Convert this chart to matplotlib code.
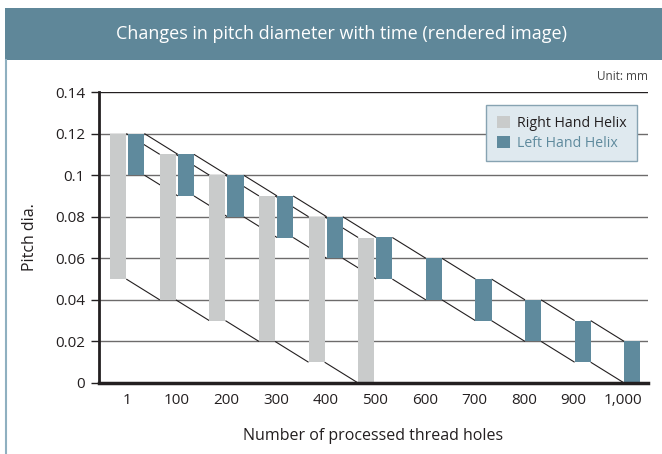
import matplotlib
matplotlib.use("Agg")
import matplotlib.pyplot as plt
from matplotlib.patches import Rectangle, Patch
from matplotlib.lines import Line2D
import numpy as np

plt.rcParams['font.family'] = ['Open Sans', 'DejaVu Sans']

categories = ["1", "100", "200", "300", "400", "500", "600", "700", "800", "900", "1,000"]
right_top = [0.12, 0.11, 0.10, 0.09, 0.08, 0.07]
right_bottom = [0.05, 0.04, 0.03, 0.02, 0.01, 0.00]
left_top = [0.12, 0.11, 0.10, 0.09, 0.08, 0.07, 0.06, 0.05, 0.04, 0.03, 0.02]
left_bottom = [0.10, 0.09, 0.08, 0.07, 0.06, 0.05, 0.04, 0.03, 0.02, 0.01, 0.00]
yticks = [0, 0.02, 0.04, 0.06, 0.08, 0.1, 0.12, 0.14]
ytick_labels = ["0", "0.02", "0.04", "0.06", "0.08", "0.1", "0.12", "0.14"]

GRAY = "#c9cbcb"
BLUE = "#5f8a9d"
BAND = "#5f8799"

W, H = 662, 454
fig = plt.figure(figsize=(W / 100, H / 100), dpi=100)
fig.patch.set_facecolor("white")

# header band
fig.patches.append(Rectangle((5 / W, 1 - 60 / H), 1 - 5 / W, 52 / H,
                             transform=fig.transFigure, facecolor=BAND,
                             edgecolor="none", zorder=0))
fig.lines.append(Line2D([6 / W, 6 / W], [0, 1 - 60 / H], transform=fig.transFigure,
                        color="#8fb0c0", lw=1.5))
fig.text(0.516, 1 - 34 / H, "Changes in pitch diameter with time (rendered image)",
         color="white", fontsize=13, ha="center", va="center")
fig.text(648 / W, 1 - 77 / H, "Unit: mm", color="#444444", fontsize=8.5,
         ha="right", va="center")

ax = fig.add_axes([99 / W, 1 - 383 / H, 549 / W, 291 / H])
x = np.arange(len(categories))
bw = 0.325
gap = 0.02

def draw_ribbon(xs_left, xs_right, tops, bottoms, color):
    for i in range(len(tops)):
        ax.bar(xs_left[i], tops[i] - bottoms[i], bottom=bottoms[i], width=bw,
               align="edge", color=color, zorder=3, linewidth=0)
    for i in range(len(tops) - 1):
        for vals in (tops, bottoms):
            ax.plot([xs_right[i], xs_left[i + 1]], [vals[i], vals[i + 1]],
                    color="#231f20", lw=0.8, zorder=2, solid_capstyle="butt")

nr = len(right_top)
g_left = x[:nr] - gap - bw
g_right = x[:nr] - gap
draw_ribbon(g_left, g_right, right_top, right_bottom, GRAY)
b_left = x + gap
b_right = x + gap + bw
draw_ribbon(b_left, b_right, left_top, left_bottom, BLUE)

for yv in yticks[1:]:
    ax.axhline(yv, color="#231f20" if yv == 0.14 else "#6d6b6b", lw=1.0, zorder=1)

ax.set_xlim(-0.57, 10.5)
ax.set_ylim(0, 0.14)
ax.set_yticks(yticks)
ax.set_yticklabels(ytick_labels)
ax.set_xticks(x)
ax.set_xticklabels(categories)
ax.tick_params(axis="x", length=0, pad=7, labelsize=11, colors="#231f20")
ax.tick_params(axis="y", length=6, width=1, direction="out", pad=4, labelsize=11,
               colors="#231f20")
for s in ("top", "right"):
    ax.spines[s].set_visible(False)
ax.spines["left"].set_linewidth(2)
ax.spines["left"].set_color("#231f20")
ax.spines["bottom"].set_linewidth(2.5)
ax.spines["bottom"].set_color("#231f20")
ax.spines["bottom"].set_zorder(5)

ax.set_xlabel("Number of processed thread holes", fontsize=11.5, color="#231f20")
ax.xaxis.set_label_coords(0.5, -(436 - 383) / 291)
ax.xaxis.label.set_va("center")
ax.set_ylabel("Pitch dia.", fontsize=11.5, color="#231f20")
ax.yaxis.set_label_coords(-(99 - 30) / 549, 0.5)
ax.yaxis.label.set_va("center")

handles = [Patch(facecolor=GRAY, edgecolor="none", label="Right Hand Helix"),
           Patch(facecolor=BLUE, edgecolor="none", label="Left Hand Helix")]
leg = ax.legend(handles=handles, loc="upper right",
                bbox_to_anchor=((637 - 99) / 549, (383 - 105) / 291),
                fancybox=False, framealpha=1, facecolor="#dfe9ef",
                edgecolor="#87a3b2", fontsize=10.2, handlelength=0.9,
                handleheight=0.9, handletextpad=0.5, borderpad=0.75,
                labelspacing=0.35, borderaxespad=0)
leg.get_frame().set_linewidth(1)
leg.get_texts()[0].set_color("#231f20")
leg.get_texts()[1].set_color(BLUE)
leg.set_zorder(10)

fig.savefig("out.png", dpi=100, facecolor="white")
